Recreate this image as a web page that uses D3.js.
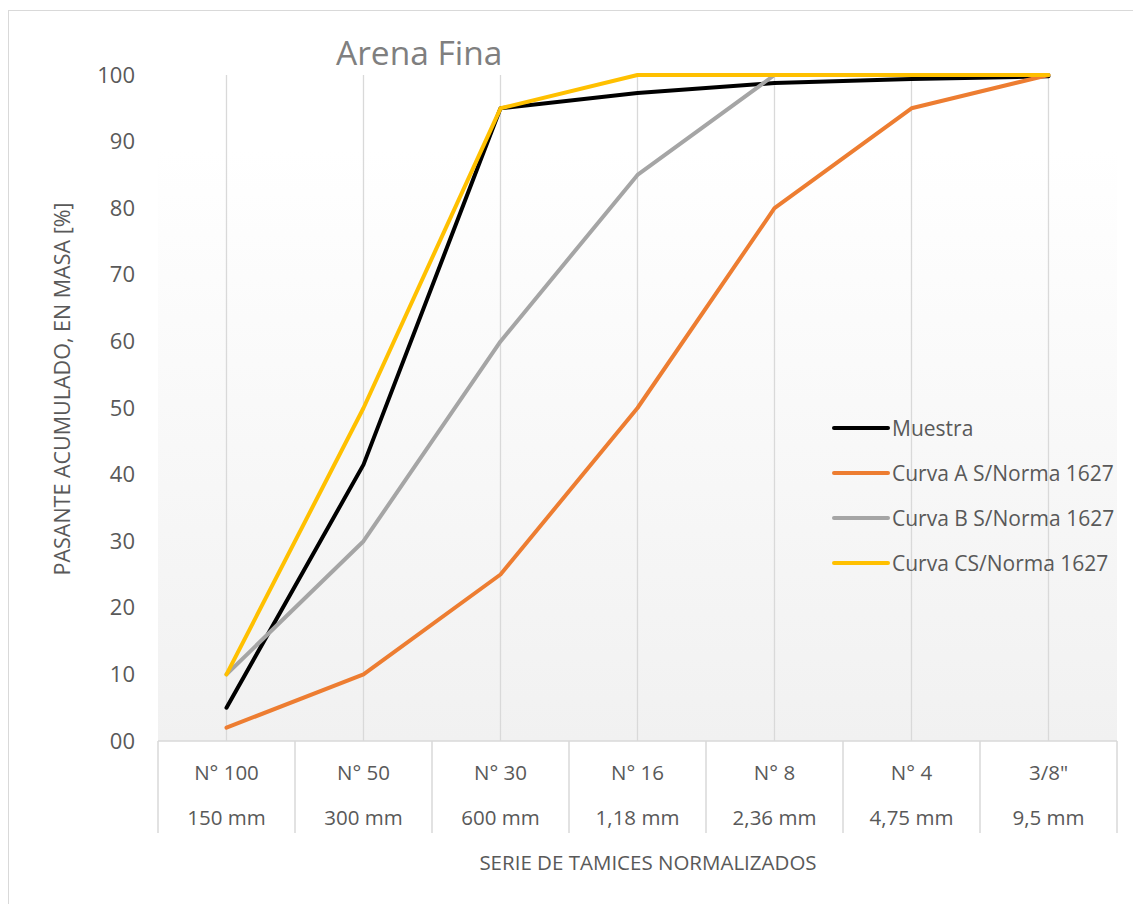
<!DOCTYPE html>
<html>
<head>
<meta charset="utf-8">
<script src="https://cdn.jsdelivr.net/npm/d3@7"></script>
<style>
  body { margin: 0; background: #fff; }
  text { font-family: "Open Sans", sans-serif; fill: #595959; }
</style>
</head>
<body>
<svg width="1133" height="904"></svg>
<script>
const sieves = ['N° 100', 'N° 50', 'N° 30', 'N° 16', 'N° 8', 'N° 4', '3/8"']
const sizes = ['150 mm', '300 mm', '600 mm', '1,18 mm', '2,36 mm', '4,75 mm', '9,5 mm']
const yTicks = [0, 10, 20, 30, 40, 50, 60, 70, 80, 90, 100]

const muestra = [5, 41.5, 95, 97.3, 98.8, 99.4, 99.8]
const curvaA = [2, 10, 25, 50, 80, 95, 100]
const curvaB = [10, 30, 60, 85, 100, 100, 100]
const curvaC = [10, 50, 95, 100, 100, 100, 100]

const seriesNames = ['Muestra', 'Curva A S/Norma 1627', 'Curva B S/Norma 1627', 'Curva CS/Norma 1627']
const seriesColors = ['#000000', '#ED7D31', '#A5A5A5', '#FFC000']
const seriesValues = [muestra, curvaA, curvaB, curvaC]

const svg = d3.select('svg')
const plotL = 158, plotR = 1117, plotT = 75, plotB = 741

// outer chart border
svg.append('rect')
  .attr('x', 8.5).attr('y', 10.5)
  .attr('width', 1140).attr('height', 910)
  .attr('fill', 'none').attr('stroke', '#d9d9d9')

const grad = svg.append('defs').append('linearGradient')
  .attr('id', 'bg').attr('x1', 0).attr('y1', 0).attr('x2', 0).attr('y2', 1)
grad.append('stop').attr('offset', 0).attr('stop-color', '#ffffff')
grad.append('stop').attr('offset', 1).attr('stop-color', '#f1f1f1')

svg.append('rect')
  .attr('x', plotL).attr('y', 150)
  .attr('width', plotR - plotL).attr('height', plotB - 150)
  .attr('fill', 'url(#bg)')

let x = d3.scaleBand().domain(sieves).range([plotL, plotR])
let y = d3.scaleLinear().domain([0, 100]).range([plotB, plotT])
const cx = d => x(d) + x.bandwidth() / 2

// vertical gridlines at category centres
svg.selectAll('.grid').data(sieves).enter().append('line')
  .attr('x1', cx).attr('x2', cx)
  .attr('y1', plotT).attr('y2', plotB)
  .attr('stroke', '#d9d9d9').attr('stroke-width', 1.3)

// baseline + category table
svg.append('line')
  .attr('x1', plotL).attr('x2', plotR)
  .attr('y1', plotB).attr('y2', plotB)
  .attr('stroke', '#d9d9d9').attr('stroke-width', 1.5)

const edges = sieves.map(d => x(d)).concat([plotR])
svg.selectAll('.sep').data(edges).enter().append('line')
  .attr('x1', d => d).attr('x2', d => d)
  .attr('y1', plotB).attr('y2', 833)
  .attr('stroke', '#d9d9d9').attr('stroke-width', 1.5)

svg.selectAll('.cat1').data(sieves).enter().append('text')
  .attr('x', cx).attr('y', 780)
  .attr('text-anchor', 'middle').attr('font-size', '20.5px')
  .text(d => d)

svg.selectAll('.cat2').data(sizes).enter().append('text')
  .attr('x', (d, i) => cx(sieves[i])).attr('y', 825)
  .attr('text-anchor', 'middle').attr('font-size', '20.5px')
  .text(d => d)

// y tick labels
svg.selectAll('.ytick').data(yTicks).enter().append('text')
  .attr('x', 135).attr('y', d => y(d) + 7.5)
  .attr('text-anchor', 'end').attr('font-size', '22px')
  .text(d => d3.format('02d')(d))

// lines
const line = d3.line()
  .x((d, i) => cx(sieves[i]))
  .y(d => y(d))

svg.selectAll('.series').data(seriesValues).enter().append('path')
  .attr('d', d => line(d))
  .attr('fill', 'none')
  .attr('stroke', (d, i) => seriesColors[i])
  .attr('stroke-width', 4)
  .attr('stroke-linejoin', 'round')
  .attr('stroke-linecap', 'round')

// legend
const legend = svg.selectAll('.legend').data(seriesNames).enter().append('g')
  .attr('transform', (d, i) => 'translate(834,' + (428 + i * 45) + ')')
legend.append('line')
  .attr('x1', 0).attr('x2', 54)
  .attr('stroke', (d, i) => seriesColors[i])
  .attr('stroke-width', 4).attr('stroke-linecap', 'round')
legend.append('text')
  .attr('x', 58).attr('y', 7.5)
  .attr('font-size', '21px')
  .text(d => d)

// title and axis titles
svg.append('text')
  .attr('x', 336).attr('y', 65)
  .attr('font-size', '33.5px').style('fill', '#7f7f7f')
  .text('Arena Fina')

svg.append('text')
  .attr('transform', 'translate(70,389) rotate(-90)')
  .attr('text-anchor', 'middle').attr('font-size', '21.5px')
  .text('PASANTE ACUMULADO, EN MASA [%]')

svg.append('text')
  .attr('x', 648).attr('y', 870)
  .attr('text-anchor', 'middle').attr('font-size', '20.5px')
  .text('SERIE DE TAMICES NORMALIZADOS')
</script>
</body>
</html>
